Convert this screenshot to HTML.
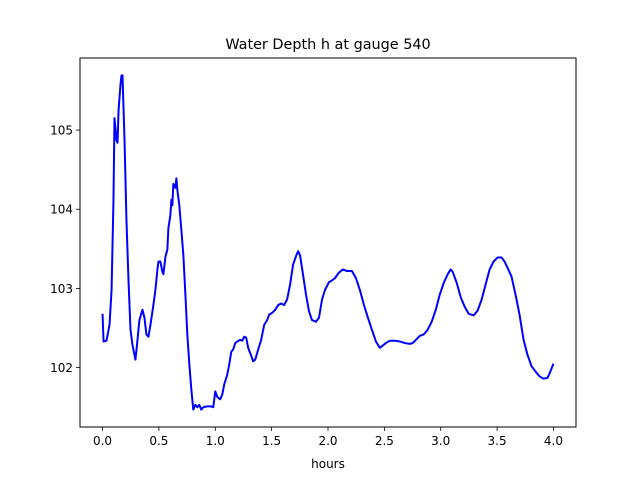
<!DOCTYPE html>
<html><head><meta charset="utf-8"><style>
html,body{margin:0;padding:0;background:#fff;}
svg{display:block;font-family:"DejaVu Sans","Liberation Sans",sans-serif;}
</style></head><body>
<svg id="chart" width="640" height="480" viewBox="0 0 640 480">
<rect width="640" height="480" fill="#fff"/>
<text x="328" y="49" text-anchor="middle" font-size="14.4" fill="#000">Water Depth h at gauge 540</text>
<g id="axes"></g>
<text x="328" y="468" text-anchor="middle" font-size="12" fill="#000">hours</text>
</svg>
<script>
const hours=[0,.009,.035,.062,.080,.097,.106,.124,.133,.142,.159,.168,.177,.195,.212,.230,.248,.265,.292,.310,.327,.354,.372,.389,.407,.425,.451,.469,.487,.496,.513,.531,.540,.558,.575,.584,.602,.611,.619,.628,.646,.655,.664,.681,.699,.717,.735,.752,.770,.788,.805,.823,.841,.858,.876,.894,.929,.965,.982,1.000,1.018,1.044,1.062,1.080,1.106,1.124,1.142,1.159,1.177,1.195,1.221,1.239,1.257,1.274,1.292,1.319,1.336,1.354,1.381,1.407,1.434,1.460,1.478,1.504,1.531,1.558,1.584,1.611,1.637,1.664,1.690,1.717,1.735,1.752,1.779,1.805,1.832,1.858,1.894,1.920,1.947,1.973,2.009,2.035,2.062,2.097,2.133,2.168,2.212,2.248,2.283,2.319,2.354,2.389,2.425,2.460,2.487,2.513,2.549,2.593,2.637,2.681,2.726,2.752,2.779,2.814,2.850,2.885,2.920,2.956,2.991,3.027,3.062,3.088,3.106,3.142,3.177,3.212,3.248,3.292,3.327,3.363,3.398,3.434,3.469,3.504,3.540,3.566,3.593,3.628,3.664,3.699,3.735,3.770,3.805,3.841,3.876,3.912,3.947,3.973,4.000];
const depth=[102.68,102.33,102.34,102.54,102.98,104.12,105.15,104.87,104.84,105.25,105.57,105.69,105.69,104.87,103.87,103.11,102.48,102.29,102.10,102.35,102.60,102.73,102.63,102.42,102.39,102.54,102.79,102.98,103.24,103.34,103.34,103.21,103.18,103.40,103.49,103.76,103.93,104.12,104.05,104.32,104.27,104.39,104.24,104.05,103.74,103.42,102.92,102.42,102.04,101.72,101.47,101.53,101.50,101.53,101.47,101.50,101.51,101.51,101.50,101.70,101.63,101.60,101.66,101.79,101.91,102.04,102.20,102.23,102.31,102.33,102.35,102.34,102.39,102.38,102.25,102.15,102.08,102.10,102.23,102.35,102.54,102.60,102.67,102.69,102.73,102.79,102.81,102.79,102.86,103.05,103.30,103.41,103.47,103.42,103.17,102.92,102.71,102.60,102.58,102.63,102.86,102.98,103.08,103.10,103.13,103.20,103.24,103.22,103.22,103.13,102.98,102.79,102.63,102.48,102.33,102.25,102.28,102.31,102.34,102.34,102.33,102.31,102.30,102.31,102.35,102.40,102.42,102.48,102.58,102.73,102.92,103.07,103.18,103.24,103.21,103.07,102.89,102.77,102.68,102.66,102.72,102.86,103.05,103.24,103.34,103.39,103.39,103.34,103.26,103.15,102.92,102.67,102.35,102.16,102.02,101.95,101.89,101.86,101.87,101.95,102.05];
const xTicks=[0,0.5,1,1.5,2,2.5,3,3.5,4];
const xTickLabels=["0.0","0.5","1.0","1.5","2.0","2.5","3.0","3.5","4.0"];
const yTicks=[102,103,104,105];
const yTickLabels=["102","103","104","105"];

const L=80,R=576,T=58,B=427;
const xMin=-0.2,xMax=4.2,yMin=101.25,yMax=105.91;
const X=v=>L+(v-xMin)/(xMax-xMin)*(R-L);
const Y=v=>B-(v-yMin)/(yMax-yMin)*(B-T);
const NS="http://www.w3.org/2000/svg";
const g=document.getElementById('axes');
function mk(t,a){const e=document.createElementNS(NS,t);for(const k in a)e.setAttribute(k,a[k]);g.appendChild(e);return e;}

const pts=hours.map((h,i)=>X(h).toFixed(2)+","+Y(depth[i]).toFixed(2)).join(" ");
const line=mk('polyline',{points:pts,fill:"none",stroke:"#0000ff","stroke-width":2,"stroke-linejoin":"round"});



const frame=mk('rect',{x:L,y:T,width:R-L,height:B-T,fill:"none",stroke:"#000","stroke-width":1});



xTicks.forEach((v,i)=>{
  const x=X(v);
  const t=mk('line',{x1:x,x2:x,y1:B,y2:B+4,stroke:"#000","stroke-width":0.8});
  
  
  const l=mk('text',{x:x,y:B+18,"text-anchor":"middle","font-size":12,fill:"#000"});
  l.textContent=xTickLabels[i];
  
  
});
yTicks.forEach((v,i)=>{
  const y=Y(v);
  const t=mk('line',{x1:L-4,x2:L,y1:y,y2:y,stroke:"#000","stroke-width":0.8});
  
  
  const l=mk('text',{x:L-7,y:y+4.5,"text-anchor":"end","font-size":12,fill:"#000"});
  l.textContent=yTickLabels[i];
  
  
});
</script>
</body></html>
